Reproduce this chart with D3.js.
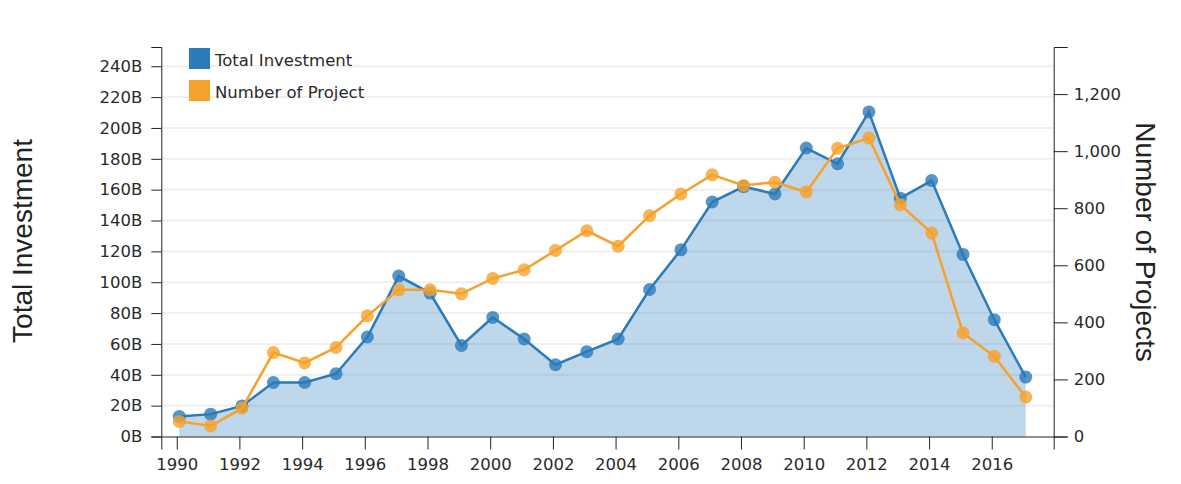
<!DOCTYPE html>
<html>
<head>
<meta charset="utf-8">
<script src="https://cdnjs.cloudflare.com/ajax/libs/d3/7.8.5/d3.min.js"></script>
<style>
body {
	margin: 0;
	background: #fff;
}

.axis text {
	font-family: "DejaVu Sans", Verdana, sans-serif;
	font-size: 16.5px;
	fill: #2a2a2a;
}

.axis path, .axis line {
	stroke: #222;
}

.title {
	font-family: "Liberation Sans", Arial, sans-serif;
	font-size: 28px;
	fill: #222;
}

.legend text {
	font-family: "DejaVu Sans", Verdana, sans-serif;
	font-size: 16.5px;
	fill: #2a2a2a;
}
</style>
</head>
<body>
<svg id="chart" width="1181" height="484"></svg>
<script>

// data
var years = [ 1990, 1991, 1992, 1993, 1994, 1995, 1996, 1997, 1998, 1999,
		2000, 2001, 2002, 2003, 2004, 2005, 2006, 2007, 2008, 2009, 2010,
		2011, 2012, 2013, 2014, 2015, 2016, 2017 ];

// billions
var investment = [ 13.0, 14.5, 19.8, 35.0, 35.0, 40.7, 64.5, 104.0, 93.0,
		59.0, 77.2, 63.2, 46.5, 55.0, 63.2, 95.3, 121.0, 152.0, 162.0,
		157.2, 187.0, 176.8, 210.4, 154.5, 165.9, 118.0, 75.7, 38.5 ];

var projects = [ 53, 37, 99, 294, 258, 312, 423, 514, 514, 500, 554, 584,
		652, 721, 667, 774, 850, 917, 880, 891, 857, 1010, 1046, 812, 713,
		363, 281, 138 ];

var seriesNames = [ "Total Investment", "Number of Project" ];
var leftTitle = "Total Investment";
var rightTitle = "Number of Projects";

var blue = "#2b7bba";
var orange = "#f6a12b";

var svg = d3.select("#chart");

var plotLeft = 161.3, plotRight = 1053.7, plotTop = 47, plotBottom = 436.5;

// points sit a month past the year tick
var data = years.map(function(y, i) {
	return {
		date : new Date(y, 0, 31),
		investment : investment[i],
		projects : projects[i]
	};
});

var x = d3.scaleTime() //
.domain([ new Date(1989, 6, 5), new Date(2017, 11, 23) ]) //
.range([ plotLeft, plotRight ]);

var yLeft = d3.scaleLinear() //
.domain([ 0, d3.max(investment) * 1.2 ]) //
.range([ plotBottom, plotTop ]);

var yRight = d3.scaleLinear() //
.domain([ 0, d3.max(projects) * 1.305 ]) //
.range([ plotBottom, plotTop ]);

// grid lines
svg.append("g").selectAll("line").data(yLeft.ticks(12).slice(1)).enter()
		.append("line") //
		.attr("x1", plotLeft) //
		.attr("x2", plotRight) //
		.attr("y1", function(d) {
			return yLeft(d);
		}) //
		.attr("y2", function(d) {
			return yLeft(d);
		}) //
		.attr("stroke", "#efefef") //
		.attr("stroke-width", 2);

// area under investment
var area = d3.area() //
.x(function(d) {
	return x(d.date);
}) //
.y0(plotBottom) //
.y1(function(d) {
	return yLeft(d.investment);
});

svg.append("path").datum(data) //
.attr("d", area) //
.attr("fill", blue) //
.attr("fill-opacity", 0.3);

function drawSeries(key, scale, color) {

	var line = d3.line() //
	.x(function(d) {
		return x(d.date);
	}) //
	.y(function(d) {
		return scale(d[key]);
	});

	svg.append("path").datum(data) //
	.attr("d", line) //
	.attr("fill", "none") //
	.attr("stroke", color) //
	.attr("stroke-width", 2.5);

	svg.append("g").selectAll("circle").data(data).enter().append("circle") //
	.attr("cx", function(d) {
		return x(d.date);
	}) //
	.attr("cy", function(d) {
		return scale(d[key]);
	}) //
	.attr("r", 6.5) //
	.attr("fill", color) //
	.attr("fill-opacity", 0.8);

}// END: drawSeries

drawSeries("investment", yLeft, blue);
drawSeries("projects", yRight, orange);

// axes
svg.append("g").attr("class", "axis") //
.attr("transform", "translate(0," + plotBottom + ")") //
.call(d3.axisBottom(x).ticks(d3.timeYear.every(2)) //
.tickFormat(d3.timeFormat("%Y")).tickSize(13).tickPadding(9));

svg.append("g").attr("class", "axis") //
.attr("transform", "translate(" + plotLeft + ",0)") //
.call(d3.axisLeft(yLeft).ticks(12).tickFormat(function(d) {
	return d + "B";
}).tickSize(10).tickPadding(9));

svg.append("g").attr("class", "axis") //
.attr("transform", "translate(" + plotRight + ",0)") //
.call(d3.axisRight(yRight).ticks(6).tickFormat(d3.format(",")) //
.tickSize(14).tickPadding(6));

// axis titles
svg.append("text").attr("class", "title") //
.attr("transform", "translate(32,241) rotate(-90)") //
.attr("text-anchor", "middle") //
.text(leftTitle);

svg.append("text").attr("class", "title") //
.attr("transform", "translate(1136,242) rotate(90)") //
.attr("text-anchor", "middle") //
.text(rightTitle);

// legend
var legend = svg.append("g").attr("class", "legend") //
.attr("transform", "translate(189,48)");

var items = legend.selectAll("g").data(seriesNames).enter().append("g") //
.attr("transform", function(d, i) {
	return "translate(0," + (i * 32) + ")";
});

items.append("rect") //
.attr("width", 21) //
.attr("height", 21) //
.attr("fill", function(d, i) {
	return i == 0 ? blue : orange;
});

items.append("text") //
.attr("x", 26) //
.attr("y", 18) //
.text(function(d) {
	return d;
});

</script>
</body>
</html>
